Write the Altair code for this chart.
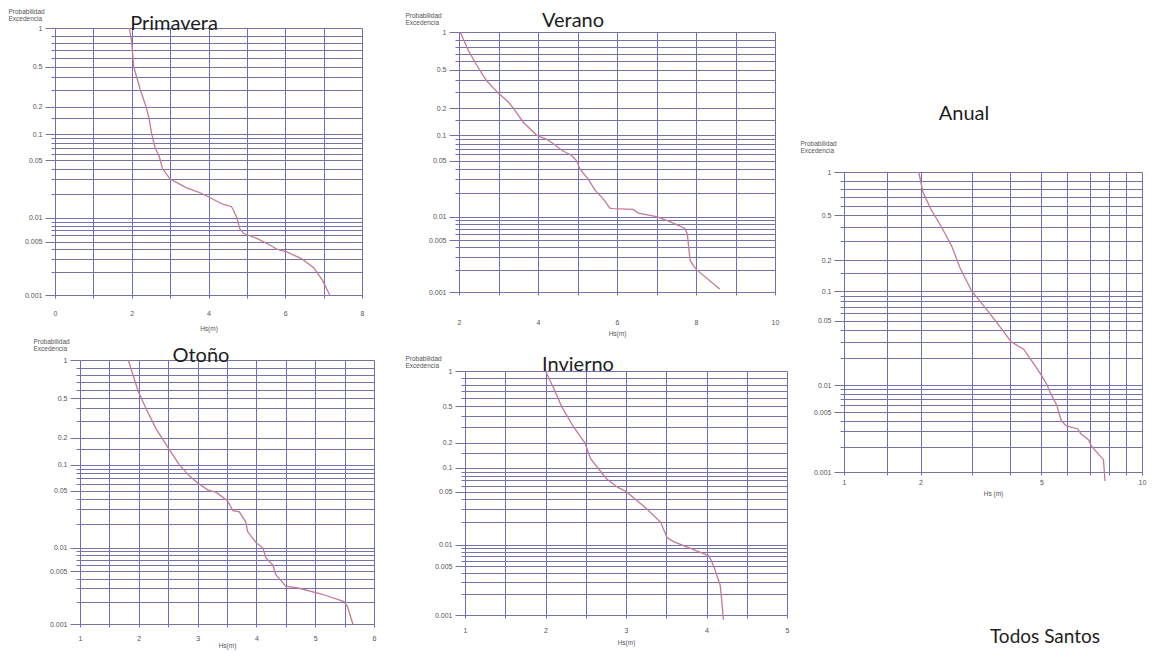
import math
import altair as alt
import pandas as pd

# ---------------- data ----------------
prim_hs = [1.94, 2.0, 2.05, 2.22, 2.37, 2.45, 2.52, 2.61, 2.72, 2.8, 3.0, 3.43, 3.78, 4.04, 4.39, 4.6, 4.65, 4.74, 4.81, 4.91, 5.26, 5.61, 5.78, 6.04, 6.43, 6.74, 6.96, 7.16]
prim_p = [1.0, 0.8, 0.5, 0.3, 0.2, 0.15, 0.1, 0.07, 0.055, 0.04, 0.03, 0.0235, 0.0205, 0.0178, 0.0147, 0.0138, 0.0125, 0.01, 0.0074, 0.0064, 0.0055, 0.0045, 0.004, 0.0037, 0.003, 0.0023, 0.0016, 0.001]

verano_hs = [2.03, 2.24, 2.45, 2.7, 3.0, 3.25, 3.38, 3.63, 3.97, 4.22, 4.39, 4.6, 4.85, 4.98, 5.06, 5.27, 5.44, 5.65, 5.82, 5.91, 6.41, 6.54, 7.0, 7.34, 7.72, 7.78, 7.85, 7.93, 8.02, 8.6]
verano_p = [1.0, 0.74, 0.55, 0.39, 0.29, 0.235, 0.2, 0.14, 0.1, 0.09, 0.08, 0.067, 0.058, 0.05, 0.04, 0.03, 0.022, 0.017, 0.013, 0.0128, 0.0125, 0.0112, 0.0101, 0.0087, 0.0071, 0.006, 0.0027, 0.0023, 0.002, 0.0011]

anual_hs = [1.97, 2.04, 2.17, 2.37, 2.57, 2.74, 3.0, 3.3, 3.58, 4.02, 4.4, 4.76, 5.0, 5.19, 5.3, 5.57, 5.75, 5.94, 6.45, 6.6, 6.95, 7.1, 7.7, 7.75, 7.78]
anual_p = [1.0, 0.76, 0.57, 0.4, 0.27, 0.17, 0.1, 0.07, 0.05, 0.03, 0.025, 0.0169, 0.0129, 0.0103, 0.0086, 0.006, 0.004, 0.0035, 0.0032, 0.0028, 0.0024, 0.002, 0.0014, 0.001, 0.00078]

otono_hs = [1.82, 1.99, 2.13, 2.3, 2.5, 2.69, 2.86, 3.0, 3.18, 3.32, 3.51, 3.6, 3.71, 3.82, 3.85, 4.0, 4.11, 4.16, 4.28, 4.33, 4.5, 4.73, 5.12, 5.49, 5.55, 5.64]
otono_p = [1.0, 0.58, 0.39, 0.245, 0.155, 0.1, 0.075, 0.062, 0.051, 0.048, 0.038, 0.029, 0.028, 0.021, 0.016, 0.0115, 0.01, 0.0075, 0.006, 0.0045, 0.0032, 0.003, 0.0025, 0.002, 0.0017, 0.001]

invierno_hs = [2.0, 2.1, 2.2, 2.35, 2.49, 2.56, 2.76, 2.89, 3.01, 3.26, 3.43, 3.51, 3.59, 3.84, 4.03, 4.09, 4.17, 4.19, 4.21]
invierno_p = [1.0, 0.75, 0.5, 0.3, 0.2, 0.13, 0.073, 0.058, 0.05, 0.03, 0.02, 0.0125, 0.011, 0.0085, 0.007, 0.005, 0.0027, 0.0016, 0.00085]

# probability-axis gridlines and labels
grid_p = [1, 0.9, 0.8, 0.7, 0.6, 0.5, 0.4, 0.3, 0.2, 0.15, 0.1, 0.09, 0.08, 0.07, 0.06, 0.05,
          0.04, 0.03, 0.02, 0.01, 0.009, 0.008, 0.007, 0.006, 0.005, 0.004, 0.003, 0.002, 0.001]
label_p = ["1", "0.5", "0.2", "0.1", "0.05", "0.01", "0.005", "0.001"]

titles = ["Primavera", "Verano", "Anual", "Otoño", "Invierno"]
footer = "Todos Santos"
y_title = ["Probabilidad", "Excedencia"]

# ---------------- layout / style ----------------
W, H = 1140, 642
GRID_X = "#6c6cc0"
GRID_Y = "#7474a8"
CURVE = "#c87890"
TXT = "#555555"
TITLE_FONT = "Lato"
SMALL_FONT = "Liberation Sans"

lab_expr = "format(pow(10, -datum.value), '.3~g')"
lab_test = "indexof(" + str(label_p) + ", " + lab_expr + ") >= 0"

panels_cfg = [
    dict(name=titles[0], hs=prim_hs, p=prim_p, xr=[47, 354], yr=[20, 287],
         scale=dict(type="linear", domain=[0, 8]), xgrid=list(range(0, 9)), xlab=[0, 2, 4, 6, 8],
         xtitle="Hs(m)", lpad=11, xty=33, ytx=-47, yty=0, tx=166, ty=22),
    dict(name=titles[1], hs=verano_hs, p=verano_p, xr=[451, 767], yr=[24, 284],
         scale=dict(type="linear", domain=[2, 10]), xgrid=list(range(2, 11)), xlab=[2, 4, 6, 8, 10],
         xtitle="Hs(m)", lpad=23, xty=41, ytx=-54, yty=4, tx=565, ty=19),
    dict(name=titles[2], hs=anual_hs, p=anual_p, xr=[836, 1134], yr=[164, 464],
         scale=dict(type="symlog", constant=0.6, domain=[1, 10]),
         xgrid=[1, 1.5, 2, 3, 4, 5, 6, 7, 8, 9, 10], xlab=[1, 2, 5, 10],
         xtitle="Hs (m)", lpad=3, xty=21, ytx=-44, yty=132, tx=956, ty=112),
    dict(name=titles[3], hs=otono_hs, p=otono_p, xr=[72, 366], yr=[352, 616],
         scale=dict(type="linear", domain=[1, 6]), xgrid=[1 + 0.5 * i for i in range(11)], xlab=[1, 2, 3, 4, 5, 6],
         xtitle="Hs(m)", lpad=7, xty=21, ytx=-47, yty=330, tx=193, ty=354),
    dict(name=titles[4], hs=invierno_hs, p=invierno_p, xr=[457, 779], yr=[363, 607],
         scale=dict(type="linear", domain=[1, 5]), xgrid=[1 + 0.5 * i for i in range(9)], xlab=[1, 2, 3, 4, 5],
         xtitle="Hs(m)", lpad=8, xty=27, ytx=-60, yty=347, tx=570, ty=363),
]


def panel(c):
    df = pd.DataFrame({"hs": c["hs"], "p": c["p"], "i": list(range(len(c["hs"])))})
    xlab = str(c["xlab"])
    xscale = alt.Scale(range=c["xr"], nice=False, zero=False, **c["scale"])
    yscale = alt.Scale(type="pow", exponent=0.84, domain=[0, 3], range=c["yr"], nice=False, zero=False)
    # bottom axis: ticks, labels, title (no grid)
    xaxis = alt.Axis(
        orient="bottom", offset=c["yr"][1] - H, values=c["xgrid"],
        labelExpr="indexof(" + xlab + ", datum.value) >= 0 ? format(datum.value, '~g') : ''",
        grid=False, domainColor=GRID_Y, tickColor=GRID_X, tickSize=3,
        labelFont=SMALL_FONT, labelFontSize=7, labelColor=TXT, labelPadding=c["lpad"],
        labelOverlap=False, labelFlush=False,
        title=c["xtitle"], titleFont=SMALL_FONT, titleFontSize=6.5, titleFontWeight="normal",
        titleColor=TXT, titleX=(c["xr"][0] + c["xr"][1]) / 2, titleY=c["xty"],
        titleAlign="center", titleBaseline="middle",
    )
    # top-oriented axis used only for the vertical gridlines
    xgrid_axis = alt.Axis(
        orient="top", offset=0, values=c["xgrid"], grid=True, gridColor=GRID_X, gridWidth=1,
        gridOpacity=1, labels=False, ticks=False, domain=False, title="",
    )
    yaxis = alt.Axis(
        orient="left", offset=-c["xr"][0], values=[-math.log10(v) for v in grid_p],
        labelExpr=lab_test + " ? " + lab_expr + " : ''",
        grid=True, gridColor=GRID_Y, gridWidth=1, gridOpacity=1,
        domainColor=GRID_X, tickColor=GRID_Y,
        tickSize={"condition": {"test": lab_test, "value": 10}, "value": 4},
        labelFont=SMALL_FONT, labelFontSize=7, labelColor=TXT, labelPadding=3,
        labelOverlap=False, labelFlush=False,
        title=y_title, titleFont=SMALL_FONT, titleFontSize=6.5, titleFontWeight="normal",
        titleColor=TXT, titleAngle=0, titleAlign="left", titleBaseline="top",
        titleX=c["ytx"], titleY=c["yty"], titleLineHeight=7,
    )
    base = alt.Chart(df).transform_calculate(nlp="-log(datum.p) / LN10")
    gridl = base.mark_line(strokeOpacity=0).encode(
        x=alt.X("hs:Q", scale=xscale, axis=xgrid_axis),
        y=alt.Y("nlp:Q", scale=yscale, axis=yaxis),
        order=alt.Order("i:Q"),
    )
    line = base.mark_line(color=CURVE, strokeWidth=1.3).encode(
        x=alt.X("hs:Q", scale=xscale, axis=xaxis),
        y=alt.Y("nlp:Q", scale=yscale, axis=yaxis),
        order=alt.Order("i:Q"),
    )
    label = alt.Chart(pd.DataFrame({"label": [c["name"]]})).mark_text(
        font=TITLE_FONT, fontSize=20, color="#1e1e1e", align="center", baseline="alphabetic"
    ).encode(x=alt.value(c["tx"]), y=alt.value(c["ty"]), text="label:N")
    return alt.layer(gridl, line, label).resolve_axis(x="independent")


layers = [panel(c) for c in panels_cfg]

foot = alt.Chart(pd.DataFrame({"label": [footer]})).mark_text(
    font=TITLE_FONT, fontSize=19, color="#1e1e1e", align="right", baseline="alphabetic"
).encode(x=alt.value(1092), y=alt.value(635), text="label:N")

chart = alt.layer(*layers, foot).resolve_scale(
    x="independent", y="independent"
).resolve_axis(
    x="independent", y="independent"
).properties(
    width=W, height=H, padding=0, autosize=alt.AutoSizeParams(type="none")
).configure_view(strokeWidth=0)

chart.save("out.html", embed_options={"renderer": "svg", "actions": False})
